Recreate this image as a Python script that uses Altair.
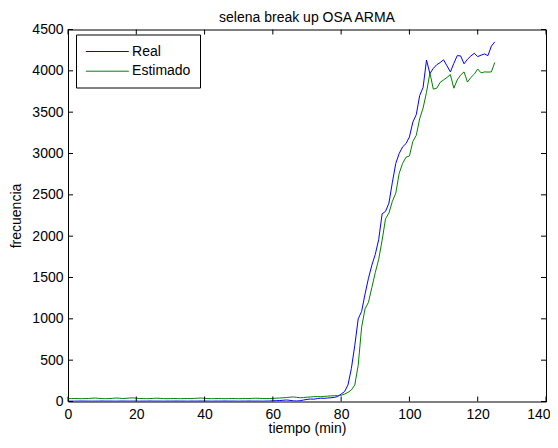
import altair as alt
import pandas as pd

# ---- data ----
time = list(range(126))

real = [
    5, 5, 4, 5, 6, 5, 5, 4, 5, 5,
    6, 5, 5, 5, 4, 5, 6, 5, 5, 5,
    5, 4, 5, 5, 6, 5, 5, 5, 4, 5,
    5, 5, 6, 5, 5, 4, 5, 5, 5, 6,
    5, 5, 4, 5, 5, 5, 6, 5, 5, 5,
    4, 5, 5, 6, 5, 5, 5, 4, 5, 6,
    8, 10, 12, 15, 18, 14, 8, 6, 10, 18,
    25, 30, 28, 35, 40, 38, 42, 45, 50, 60,
    90, 120, 200, 400, 680, 1000, 1090, 1300, 1490, 1650,
    1780, 1960, 2270, 2300, 2400, 2650, 2880, 3000, 3080, 3120,
    3200, 3380, 3470, 3700, 3800, 4130, 3967, 4030, 4074, 4100,
    4133, 4060, 3987, 4090, 4184, 4180, 4085, 4140, 4180, 4212,
    4172, 4190, 4204, 4184, 4299, 4350,
]

estimado = [
    35, 35, 36, 35, 34, 35, 36, 40, 42, 38,
    35, 34, 35, 38, 42, 40, 36, 38, 42, 44,
    40, 36, 35, 34, 35, 38, 40, 38, 35, 34,
    35, 36, 35, 34, 35, 36, 35, 38, 40, 42,
    38, 35, 34, 35, 36, 35, 34, 35, 36, 35,
    34, 35, 36, 35, 38, 40, 38, 36, 35, 36,
    38, 40, 42, 45, 48, 52, 55, 50, 45, 48,
    52, 55, 58, 60, 58, 62, 65, 68, 70, 72,
    75, 90, 110, 140, 200, 440, 900, 1120, 1200, 1380,
    1560, 1720, 1950, 2210, 2280, 2420, 2520, 2760, 2880, 2955,
    2970, 3146, 3220, 3420, 3550, 3740, 3975, 3778, 3790, 3860,
    3890, 3920, 3955, 3790, 3890, 3950, 3987, 3864, 3920, 3960,
    4022, 3975, 3987, 3985, 3987, 4101,
]

series_names = ["Real", "Estimado"]
series_colors = ["#0000ff", "#008000"]
x_ticks = [0, 20, 40, 60, 80, 100, 120, 140]
y_ticks = [0, 500, 1000, 1500, 2000, 2500, 3000, 3500, 4000, 4500]

df = pd.DataFrame({
    "t": time + time,
    "v": real + estimado,
    "serie": [series_names[0]] * len(time) + [series_names[1]] * len(time),
})

W, H = 478, 372
FONT = "Liberation Sans"
TL = 5  # inward tick length

xs = alt.Scale(domain=[0, 140], nice=False, zero=False)
ys = alt.Scale(domain=[0, 4500], nice=False, zero=False)

x_axis = alt.Axis(values=x_ticks, title="tiempo (min)", labelPadding=5.5,
                  format="d", labelFlush=True, labelFlushOffset=4,
                  titleY=31, titleBaseline="alphabetic")
y_axis = alt.Axis(values=y_ticks, title="frecuencia", labelPadding=5,
                  format="d", titleX=-48, titleBaseline="alphabetic")

lines = alt.Chart(df).mark_line(strokeWidth=1, clip=True).encode(
    x=alt.X("t:Q", scale=xs, axis=x_axis),
    y=alt.Y("v:Q", scale=ys, axis=y_axis),
    color=alt.Color("serie:N", sort=series_names,
                    scale=alt.Scale(domain=series_names, range=series_colors),
                    legend=alt.Legend(
                        title=None, orient="none", legendX=8, legendY=5,
                        strokeColor="black", fillColor="white", padding=9,
                        symbolType="M-3,0H3", symbolSize=205,
                        symbolStrokeWidth=1, symbolOffset=14.35,
                        labelOffset=16.7, labelFontSize=14, labelFont=FONT,
                        labelColor="black", rowPadding=4.7, cornerRadius=0)),
)

xt = pd.DataFrame({"t": x_ticks})
yt = pd.DataFrame({"v": y_ticks})

bottom_ticks = alt.Chart(xt).mark_rule(color="black", strokeWidth=1).encode(
    x=alt.X("t:Q", scale=xs, axis=x_axis), y=alt.value(H), y2=alt.value(H - TL))
top_ticks = alt.Chart(xt).mark_rule(color="black", strokeWidth=1).encode(
    x=alt.X("t:Q", scale=xs, axis=x_axis), y=alt.value(0), y2=alt.value(TL))
left_ticks = alt.Chart(yt).mark_rule(color="black", strokeWidth=1).encode(
    y=alt.Y("v:Q", scale=ys, axis=y_axis), x=alt.value(0), x2=alt.value(TL))
right_ticks = alt.Chart(yt).mark_rule(color="black", strokeWidth=1).encode(
    y=alt.Y("v:Q", scale=ys, axis=y_axis), x=alt.value(W), x2=alt.value(W - TL))

chart = alt.layer(
    lines, bottom_ticks, top_ticks, left_ticks, right_ticks
).properties(
    width=W, height=H,
    title=alt.Title("selena break up OSA ARMA", font=FONT, fontSize=14,
                    fontWeight="normal", color="black", offset=8, dy=10,
                    anchor="middle", frame="group"),
    autosize=alt.AutoSizeParams(type="none"),
    padding={"left": 60, "top": 21.5, "right": 4, "bottom": 34},
).configure_view(
    stroke="black", strokeWidth=1
).configure_axis(
    domain=False, ticks=False, tickSize=0, grid=False,
    labelFont=FONT, labelFontSize=14, labelColor="black",
    titleFont=FONT, titleFontSize=14, titleFontWeight="normal",
    titleColor="black",
)

chart.save("out.html", embed_options={"renderer": "svg", "actions": False})
